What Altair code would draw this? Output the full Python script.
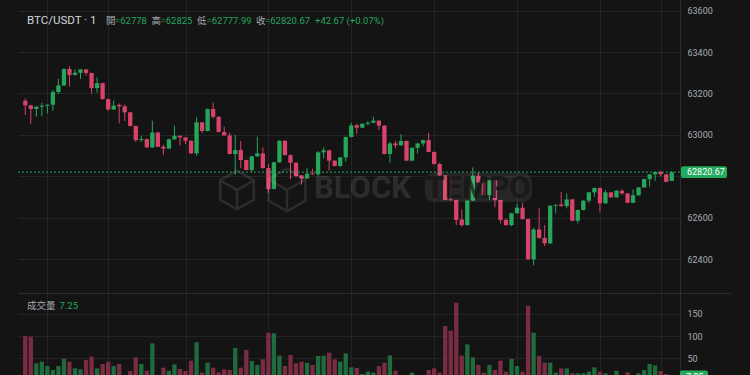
import altair as alt
import pandas as pd
import numpy as np

# ---------------- data ----------------
symbol = "BTC/USDT · 1"
ohlc_names = ["開", "高", "低", "收"]
volume_title = "成交量"

opens = [63165, 63143, 63125, 63136, 63141, 63146, 63207, 63239, 63318, 63289,
         63300, 63316, 63299, 63226, 63250, 63173, 63123, 63145, 63138, 63109,
         63043, 62975, 62980, 62940, 63012, 62943, 62934, 62979, 62996, 62988,
         62972, 62911, 63061, 63019, 63125, 63088, 63014, 62998, 62908, 62927,
         62879, 62831, 62897, 62911, 62840, 62739, 62868, 62972, 62903, 62866,
         62805, 62790, 62814, 62810, 62916, 62926, 62876, 62850, 62892, 62990,
         63047, 63035, 63054, 63059, 63069, 63045, 62908, 62959, 62950, 62971,
         62876, 62938, 62959, 62975, 62918, 62860, 62805, 62688, 62686, 62592,
         62565, 62683, 62803, 62771, 62710, 62781, 62686, 62590, 62565, 62622,
         62649, 62594, 62400, 62544, 62503, 62477, 62659, 62664, 62657, 62689,
         62586, 62638, 62683, 62723, 62744, 62670, 62723, 62699, 62731, 62718,
         62673, 62709, 62747, 62787, 62810, 62821, 62810, 62778]
highs = [63176, 63145, 63139, 63155, 63147, 63217, 63271, 63320, 63331, 63316,
         63318, 63318, 63300, 63278, 63252, 63175, 63167, 63152, 63147, 63111,
         63045, 62996, 62982, 63069, 63014, 62953, 62982, 63045, 62998, 62990,
         62974, 63085, 63062, 63127, 63157, 63090, 63040, 63011, 63000, 62971,
         62881, 62898, 62992, 62940, 62860, 62870, 62974, 62974, 62905, 62868,
         62806, 62840, 62837, 62922, 62940, 62928, 62878, 62894, 62992, 63059,
         63053, 63056, 63067, 63088, 63071, 63046, 62967, 62972, 63003, 62973,
         62940, 62961, 62977, 63011, 62920, 62866, 62807, 62798, 62688, 62641,
         62685, 62844, 62819, 62782, 62783, 62783, 62688, 62598, 62624, 62670,
         62673, 62596, 62553, 62646, 62565, 62661, 62665, 62725, 62718, 62691,
         62640, 62685, 62725, 62746, 62746, 62734, 62725, 62733, 62737, 62720,
         62737, 62749, 62789, 62812, 62823, 62827, 62812, 62825]
lows = [63096, 63054, 63088, 63091, 63104, 63117, 63197, 63236, 63234, 63287,
        63270, 63286, 63199, 63205, 63171, 63117, 63120, 63056, 63067, 63041,
        62967, 62967, 62938, 62938, 62941, 62905, 62932, 62976, 62950, 62955,
        62909, 62900, 63008, 63017, 63080, 63012, 62996, 62906, 62807, 62839,
        62829, 62821, 62894, 62838, 62721, 62737, 62866, 62901, 62786, 62795,
        62760, 62788, 62808, 62802, 62887, 62828, 62848, 62848, 62871, 62988,
        63004, 63033, 63046, 63057, 63024, 62906, 62866, 62935, 62948, 62874,
        62874, 62911, 62946, 62916, 62858, 62798, 62684, 62683, 62565, 62557,
        62563, 62681, 62769, 62705, 62686, 62651, 62573, 62563, 62560, 62620,
        62592, 62397, 62371, 62500, 62464, 62475, 62622, 62654, 62646, 62584,
        62573, 62636, 62673, 62702, 62626, 62668, 62697, 62697, 62712, 62671,
        62671, 62706, 62745, 62750, 62779, 62799, 62772, 62777.99]
closes = [63143, 63125, 63136, 63141, 63146, 63207, 63239, 63318, 63289, 63300,
          63316, 63299, 63226, 63250, 63173, 63123, 63141, 63138, 63109, 63043,
          62975, 62980, 62940, 63012, 62943, 62934, 62979, 62996, 62988, 62972,
          62911, 63061, 63019, 63125, 63088, 63014, 62998, 62908, 62927, 62879,
          62831, 62897, 62911, 62840, 62739, 62868, 62972, 62903, 62866, 62802,
          62790, 62813, 62810, 62916, 62926, 62876, 62850, 62892, 62990, 63046,
          63035, 63054, 63059, 63069, 63045, 62908, 62959, 62950, 62971, 62876,
          62938, 62959, 62975, 62918, 62860, 62805, 62686, 62685, 62590, 62565,
          62683, 62803, 62771, 62710, 62781, 62686, 62590, 62565, 62622, 62649,
          62594, 62400, 62544, 62503, 62477, 62659, 62663, 62657, 62689, 62586,
          62638, 62683, 62723, 62744, 62670, 62723, 62699, 62731, 62718, 62673,
          62709, 62747, 62787, 62810, 62821, 62810, 62774, 62820.67]
volumes = [100.1, 98.6, 38.6, 42.4, 32.6, 23.6, 32.6, 49.1, 42.4, 27.4,
           25.1, 46.1, 53.6, 27.4, 37.1, 42.4, 32.6, 37.1, 8.0, 21.4,
           52.1, 37.1, 22.1, 83.6, 8.0, 28.9, 22.1, 36.4, 25.9, 21.4,
           44.6, 85.9, 17.6, 40.1, 28.9, 18.4, 25.1, 23.6, 73.1, 28.9,
           68.6, 43.9, 34.9, 47.6, 107.6, 106.1, 55.9, 32.6, 57.4, 38.6,
           42.4, 40.1, 34.9, 55.1, 55.9, 62.6, 47.6, 42.4, 61.1, 29.6,
           28.1, 14.6, 19.9, 17.6, 32.6, 40.1, 56.6, 22.1, 8.0, 10.0,
           17.6, 8.0, 8.0, 23.6, 27.4, 17.6, 122.6, 112.1, 175.1, 55.9,
           81.4, 52.1, 34.9, 17.6, 34.9, 23.6, 44.6, 19.9, 48.4, 32.6,
           19.9, 168.4, 107.6, 55.1, 40.1, 40.1, 17.6, 27.4, 27.4, 16.1,
           16.1, 16.1, 19.9, 29.6, 19.9, 16.1, 8.0, 22.1, 8.0, 18.4,
           8.0, 16.1, 23.6, 37.1, 34.1, 21.4, 14.6, 7.25]

price_ticks = [62400, 62600, 62800, 63000, 63200, 63400, 63600]
volume_ticks = [50, 100, 150]
time_grid = [4, 15, 29, 44, 59, 74, 89, 104, 115]

# ---------------- styling ----------------
BG = "#141414"
GRID = "#242424"
AXIS_LINE = "#2e2e2e"
SEP = "#2c2c2c"
UP = "#26a65b"
DOWN = "#d8426b"
VUP = "#1f6b3d"
VDOWN = "#7a2c43"
TAG = "#22ab5c"
LABEL = "#a8abb3"
FONT = "Roboto, Noto Sans CJK TC, sans-serif"
W, H = 662, 375

n = len(opens)
df = pd.DataFrame({
    "i": list(range(n)), "open": opens, "high": highs, "low": lows,
    "close": closes, "vol": volumes,
})
df["dir"] = np.where(df["close"] >= df["open"], "up", "down")
df["body_lo"] = np.minimum(df["open"], df["close"])
df["body_hi"] = np.maximum(np.maximum(df["open"], df["close"]), df["body_lo"] + 4)

last_open, last_high, last_low, last_close = opens[-1], highs[-1], lows[-1], closes[-1]
change = last_close - last_open
pct = change / last_open * 100
last_vol = volumes[-1]

one = alt.Data(values=[{}])

x_scale = alt.Scale(domain=[-0.41, n - 0.41], nice=False, zero=False)
x_axis = alt.Axis(values=time_grid, grid=True, gridColor=GRID, gridWidth=1,
                  labels=False, ticks=False, domain=False, title=None)
x_enc = alt.X("i:Q", scale=x_scale, axis=x_axis)

# the label of the tick hidden behind the last-price tag is left blank
hidden_tick = min(price_ticks, key=lambda t: abs(t - last_close))
p_scale = alt.Scale(domain=[61842, 63651], nice=False, zero=False)
p_axis = alt.Axis(orient="right", values=price_ticks, grid=True, gridColor=GRID,
                  domain=True, domainColor=AXIS_LINE, ticks=False, labelPadding=7,
                  labelColor=LABEL, labelFontSize=9, labelFont=FONT, title=None,
                  format="d", labelOverlap=False, labelBound=False, labelFlush=False,
                  labelExpr=f"datum.value == {hidden_tick} ? '' : datum.label")
v_scale = alt.Scale(domain=[12.4, 856.1], nice=False, zero=False)
v_axis = alt.Axis(orient="right", values=volume_ticks, grid=True, gridColor=GRID,
                  domain=False, ticks=False, labelPadding=7, labelColor=LABEL,
                  labelFontSize=9, labelFont=FONT, title=None, format="d",
                  labelOverlap=False, labelBound=False, labelFlush=False)

candle_color = alt.condition(alt.datum.dir == "up", alt.value(UP), alt.value(DOWN))
vol_color = alt.condition(alt.datum.dir == "up", alt.value(VUP), alt.value(VDOWN))

base = alt.Chart(df)

wicks = base.mark_rule(strokeWidth=1).encode(
    x=x_enc, y=alt.Y("low:Q", scale=p_scale, axis=p_axis), y2="high:Q", color=candle_color)
bodies = base.mark_bar(size=4.3).encode(
    x=x_enc, y=alt.Y("body_lo:Q", scale=p_scale, axis=p_axis), y2="body_hi:Q", color=candle_color)
dash = alt.Chart(one).mark_rule(color=UP, strokeDash=[2, 2], strokeWidth=1).encode(
    y=alt.YDatum(last_close, scale=p_scale, axis=p_axis))
tag_box = alt.Chart(one).mark_rect(color=TAG, cornerRadius=2).encode(
    x=alt.value(663), x2=alt.value(709),
    y=alt.YDatum(last_close + 28, scale=p_scale, axis=p_axis), y2=alt.datum(last_close - 28))
tag_text = alt.Chart(one).mark_text(align="left", baseline="middle", color="#ffffff",
                                    fontSize=9, font=FONT).encode(
    x=alt.value(669), y=alt.YDatum(last_close, scale=p_scale, axis=p_axis),
    text=alt.value(f"{last_close:.2f}"))
price = alt.layer(wicks, bodies, dash, tag_box, tag_text)

vbars = base.mark_bar(size=4.3).encode(
    x=x_enc, y=alt.Y("vol:Q", scale=v_scale, axis=v_axis), y2=alt.datum(0), color=vol_color)
vbox = alt.Chart(one).mark_rect(color=TAG, cornerRadius=2).encode(
    x=alt.value(662), x2=alt.value(690),
    y=alt.YDatum(last_vol + 15.5, scale=v_scale, axis=v_axis), y2=alt.datum(last_vol - 15.5))
vtext = alt.Chart(one).mark_text(align="left", baseline="middle", color="#ffffff",
                                 fontSize=9, font=FONT).encode(
    x=alt.value(668), y=alt.YDatum(last_vol, scale=v_scale, axis=v_axis),
    text=alt.value(f"{last_vol:.2f}"))
volume = alt.layer(vbars, vbox, vtext)

sep = alt.Chart(one).mark_rule(color=SEP, strokeWidth=1).encode(
    x=alt.value(0), x2=alt.value(713), y=alt.value(293.5))


def label(text, x, y, color, size, **kw):
    return alt.Chart(one).mark_text(align="left", baseline="middle", font=FONT,
                                    fontSize=size, color=color, **kw).encode(
        x=alt.value(x - 18), y=alt.value(y), text=alt.value(text))


# watermark
cube = ("M0,-1L0.87,-0.5L0.87,0.5L0,1L-0.87,0.5L-0.87,-0.5Z"
        "M-0.87,-0.5L0,0L0.87,-0.5M0,0L0,1")
wm_rect = alt.Chart(one).mark_rect(color="#ffffff", opacity=0.08, cornerRadius=9).encode(
    x=alt.value(425 - 18), x2=alt.value(532 - 18), y=alt.value(173), y2=alt.value(202))
wm_block = label("BLOCK", 314, 188.5, "#ffffff", 31, fontWeight="bold", opacity=0.1)
wm_tempo = alt.Chart(one).mark_text(align="center", baseline="middle", font=FONT,
                                    fontSize=31, fontWeight="bold", color=BG,
                                    opacity=0.7).encode(
    x=alt.value(478 - 18), y=alt.value(188.5), text=alt.value("TEMPO"))
wm_cube1 = alt.Chart(one).mark_point(shape=cube, size=1500, filled=False, color="#ffffff",
                                     strokeWidth=2.5, opacity=0.1).encode(
    x=alt.value(237 - 18), y=alt.value(190))
wm_cube2 = alt.Chart(one).mark_point(shape=cube, size=1800, filled=False, color="#ffffff",
                                     strokeWidth=2.5, opacity=0.1).encode(
    x=alt.value(287 - 18), y=alt.value(190))

GRAYTXT = "#a8abb3"
headers = [
    label(symbol, 27, 20.5, "#d1d4dc", 11.5),
    label(ohlc_names[0], 106, 21, GRAYTXT, 9.5),
    label(f"={last_open}", 115, 21, UP, 9.5),
    label(ohlc_names[1], 151.5, 21, GRAYTXT, 9.5),
    label(f"={last_high}", 160.5, 21, UP, 9.5),
    label(ohlc_names[2], 197, 21, GRAYTXT, 9.5),
    label(f"={last_low}", 206.5, 21, UP, 9.5),
    label(ohlc_names[3], 256, 21, GRAYTXT, 9.5),
    label(f"={last_close}", 265, 21, UP, 9.5),
    label(f"+{change:.2f} (+{pct:.2f}%)", 315, 21, UP, 9.5),
    label(volume_title, 27, 306, GRAYTXT, 9.5),
    label(f"{last_vol:.2f}", 59.5, 306, UP, 9.5),
]

chart = alt.layer(
    price, volume, sep, wm_rect, wm_block, wm_tempo, wm_cube1, wm_cube2, *headers
).resolve_scale(y="independent").properties(
    width=W, height=H, autosize="none",
    padding={"left": 18, "top": 0, "right": 70, "bottom": 0},
    background=BG,
).configure_view(strokeWidth=0)

chart.save("out.html", embed_options={"renderer": "svg", "actions": False})
